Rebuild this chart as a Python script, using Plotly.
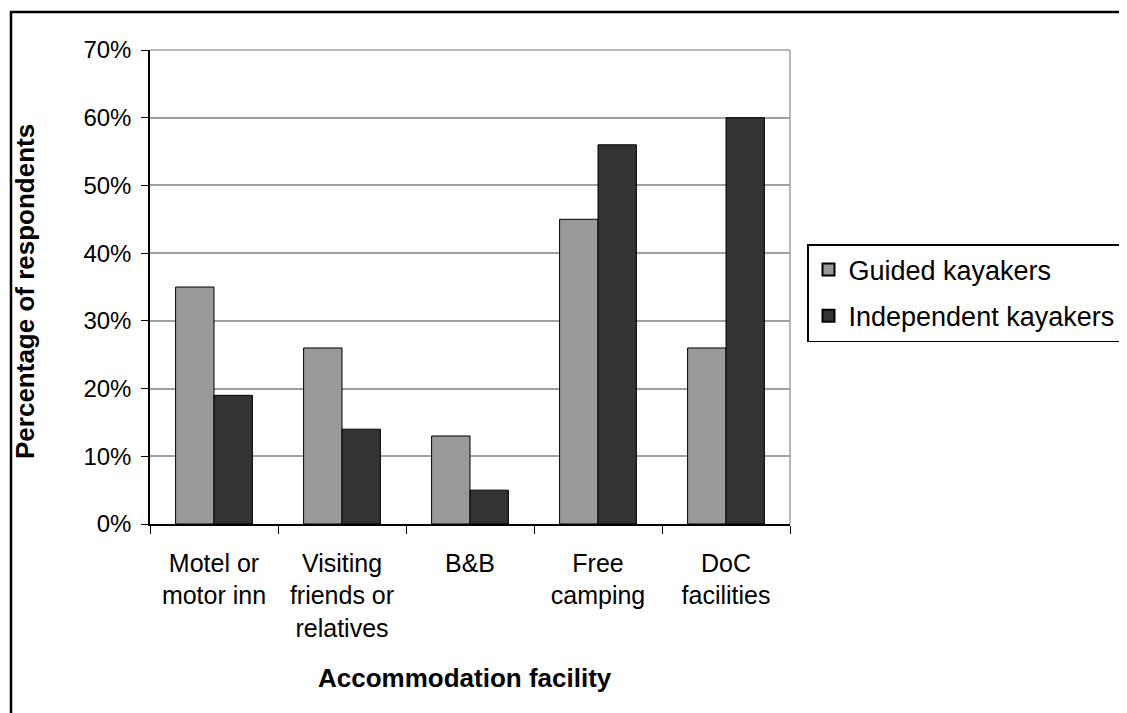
import plotly.graph_objects as go

categories = ["Motel or<br>motor inn", "Visiting<br>friends or<br>relatives", "B&B",
              "Free<br>camping", "DoC<br>facilities"]
guided = [35, 26, 13, 45, 26]
independent = [19, 14, 5, 56, 60]
series_names = ["Guided kayakers", "Independent kayakers"]
tick_vals = [0, 10, 20, 30, 40, 50, 60, 70]
tick_text = ["0%", "10%", "20%", "30%", "40%", "50%", "60%", "70%"]

FONT = "Arial, Liberation Sans, sans-serif"
OFF = 8  # page body margin
W, H = 1127 - OFF, 713 - OFF
L, R, T, B = 150 - OFF, 1127 - 790, 50 - OFF, 713 - 524
pw, ph = W - L - R, H - T - B

def px(x):  # page x -> paper
    return (x - OFF - L) / pw

def py(y):  # page y -> paper
    return (H - B - (y - OFF)) / ph

fig = go.Figure()
fig.add_trace(go.Bar(x=categories, y=guided, name=series_names[0], legendgroup="g1",
                     marker=dict(color="#999999", line=dict(color="black", width=1))))
fig.add_trace(go.Bar(x=categories, y=independent, name=series_names[1], legendgroup="g2",
                     marker=dict(color="#333333", line=dict(color="black", width=1))))

fig.update_layout(
    width=W, height=H,
    margin=dict(l=L, r=R, t=T, b=B, autoexpand=False),
    paper_bgcolor="white", plot_bgcolor="white",
    font=dict(family=FONT, size=24, color="black"),
    barmode="group", bargap=0.4, bargroupgap=0,
    showlegend=True,
    legend=dict(x=px(807), y=py(244), xanchor="left", yanchor="top",
                bordercolor="black", borderwidth=1.5, bgcolor="white",
                font=dict(size=27, family=FONT), itemsizing="constant",
                tracegroupgap=8),
    xaxis=dict(showline=True, linecolor="black", linewidth=1.5,
               ticks="outside", ticklen=8, tickcolor="black", tickson="boundaries",
               tickfont=dict(size=25), ticklabelstandoff=16, mirror=False),
    yaxis=dict(range=[0, 70], tickvals=tick_vals, ticktext=tick_text,
               showline=True, linecolor="black", linewidth=1.5,
               ticks="outside", ticklen=7, tickcolor="black",
               showgrid=True, gridcolor="#a0a0a0", gridwidth=1.5,
               tickfont=dict(size=24), ticklabelstandoff=5, zeroline=False),
    annotations=[
        dict(text="<b>Accommodation facility</b>", xref="paper", yref="paper",
             x=px(465), y=py(678), xanchor="center", yanchor="middle",
             showarrow=False, font=dict(size=26, family=FONT)),
        dict(text="<b>Percentage of respondents</b>", xref="paper", yref="paper",
             x=px(25), y=py(292), xanchor="center", yanchor="middle", textangle=-90,
             showarrow=False, font=dict(size=26, family=FONT)),
    ],
    shapes=[
        dict(type="line", xref="paper", yref="paper", x0=0, x1=1, y0=1, y1=1,
             line=dict(color="#a0a0a0", width=1.5)),
        dict(type="line", xref="paper", yref="paper", x0=1, x1=1, y0=0, y1=1,
             line=dict(color="#a0a0a0", width=1.5)),
        dict(type="rect", xref="paper", yref="paper",
             x0=px(11), x1=px(1140), y0=py(730), y1=py(12),
             line=dict(color="black", width=2.5), layer="below"),
    ],
)

fig.write_html("out.html")
